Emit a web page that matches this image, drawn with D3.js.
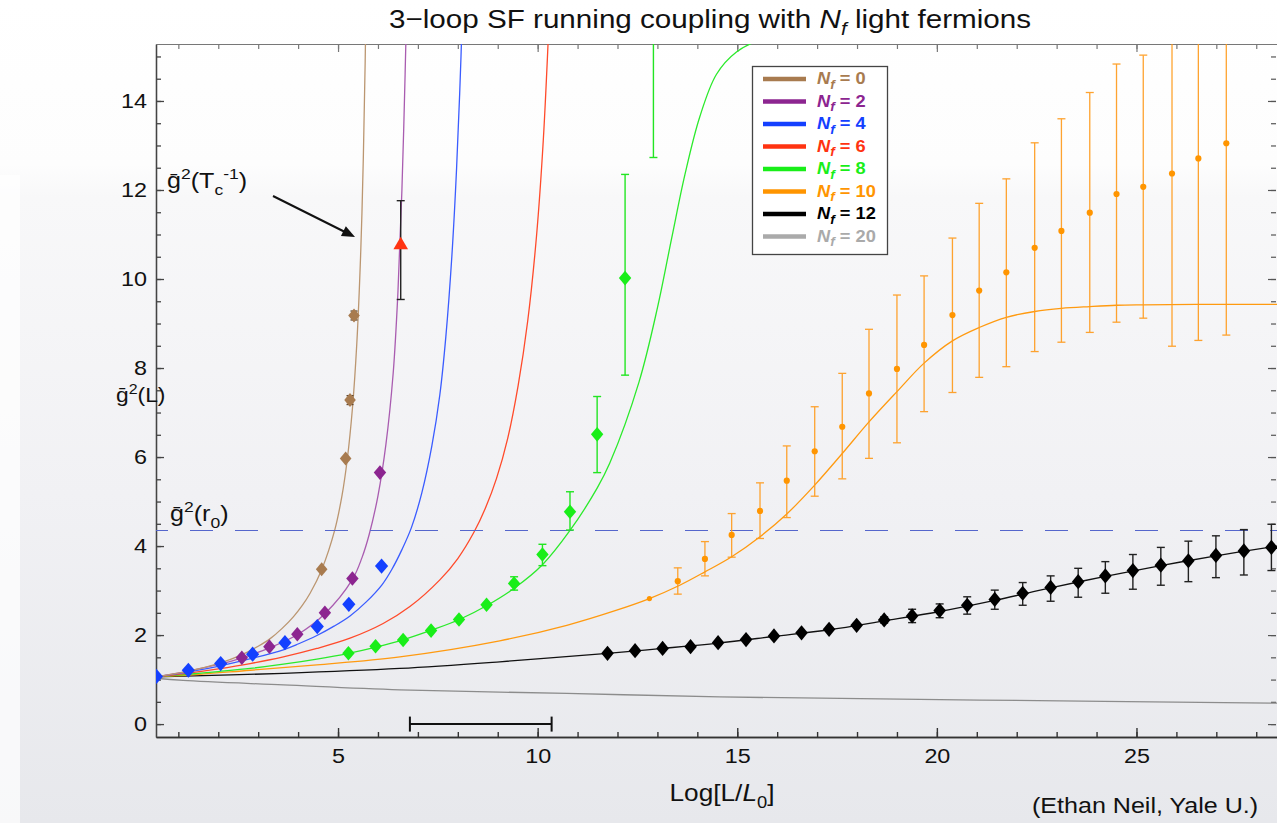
<!DOCTYPE html>
<html><head><meta charset="utf-8">
<script src="https://cdn.jsdelivr.net/npm/d3@7"></script>
<style>
html,body{margin:0;padding:0;background:#fff;}
svg{display:block;font-family:"Liberation Sans",Arial,Helvetica,sans-serif;}
</style></head><body>
<svg id="chart" width="1277" height="823"></svg>
<script>
// ---------------- data ----------------
const seriesLabels = ["0","2","4","6","8","10","12","20"];
const seriesColors = ["#a87b4f","#8c2590","#1440ff","#ff3311","#19ee19","#ff9500","#000000","#aaaaaa"];
const curveColors  = ["#bb9670","#a95cb0","#3a5cff","#ff4a2a","#2bea2b","#ff9a10","#111111","#8c8c8c"];

const curveNf0 = [[0.44,1.06],[1.25,1.19],[2.0,1.36],[2.57,1.55],[3.0,1.75],[3.30,1.92],[3.6,2.15],[3.88,2.41],[4.1,2.66],[4.30,2.94],[4.59,3.47],[4.92,4.37],[5.10,5.14],[5.23,5.94],[5.36,7.09],[5.47,8.55],[5.57,10.65],[5.63,12.6],[5.68,14.9],[5.73,18.3]];
const curveNf2 = [[0.44,1.06],[1.25,1.19],[2.0,1.34],[2.6,1.49],[3.3,1.72],[4.0,2.02],[4.67,2.48],[5.36,3.25],[5.6,3.74],[5.78,4.26],[6.0,5.13],[6.2,6.29],[6.38,7.87],[6.5,9.7],[6.6,12.0],[6.68,14.6],[6.74,17.0]];
const curveNf4 = [[0.44,1.06],[1.25,1.175],[2.06,1.31],[2.86,1.48],[3.63,1.67],[4.0,1.80],[4.47,1.99],[4.9,2.20],[5.30,2.43],[5.70,2.74],[6.10,3.13],[6.35,3.48],[6.60,3.92],[6.84,4.42],[7.10,5.2],[7.35,6.25],[7.55,7.4],[7.70,8.7],[7.85,10.5],[7.97,12.5],[8.08,15.0],[8.16,17.5]];
const curveNf6 = [[0.44,1.06],[1.25,1.145],[2.0,1.24],[2.80,1.36],[3.63,1.51],[4.47,1.70],[5.30,1.93],[6.13,2.26],[6.80,2.64],[7.55,3.24],[8.0,3.72],[8.41,4.32],[8.7,4.87],[8.97,5.52],[9.25,6.42],[9.51,7.6],[9.75,9.05],[9.97,10.95],[10.14,13.1],[10.29,15.9]];
const curveNf8 = [[0.44,1.06],[1.25,1.12],[2.0,1.18],[2.80,1.25],[3.63,1.345],[4.47,1.46],[5.26,1.59],[5.95,1.73],[6.65,1.90],[7.34,2.11],[8.04,2.35],[8.74,2.67],[9.41,3.05],[10.12,3.58],[10.81,4.35],[11.49,5.30],[11.81,5.87],[12.54,7.69],[13.0,9.35],[13.36,10.93],[13.69,12.35],[14.06,13.64],[14.48,14.6],[14.98,15.1],[15.6,15.38],[16.5,15.53]];
const curveNf10 = [[0.44,1.06],[1.25,1.10],[2.80,1.21],[4.47,1.33],[6.55,1.51],[9.05,1.87],[10.73,2.22],[11.98,2.56],[12.80,2.82],[13.56,3.12],[14.19,3.42],[14.86,3.76],[15.57,4.21],[16.24,4.72],[16.94,5.37],[17.63,6.08],[18.30,6.79],[19.0,7.47],[19.68,8.11],[20.39,8.61],[21.06,8.91],[21.74,9.14],[22.45,9.27],[23.12,9.34],[23.83,9.38],[24.5,9.41],[25.17,9.42],[26.5,9.43],[28.52,9.43]];
const curveNf12 = [[0.44,1.06],[3.63,1.14],[6.55,1.25],[9.05,1.40],[11.75,1.59],[13.13,1.70],[14.52,1.82],[15.92,1.97],[17.30,2.12],[18.68,2.32],[20.07,2.53],[21.45,2.78],[22.85,3.06],[24.22,3.32],[25.61,3.56],[26.99,3.78],[28.52,4.0]];
const curveNf20 = [[0.44,1.03],[1.12,0.98],[3.63,0.88],[6.55,0.77],[10.73,0.69],[14.56,0.61],[21.08,0.54],[28.52,0.47]];

// points: [x, y, errLow, errHigh]
const pointsNf0 = [[4.59,3.48],[5.19,5.97],[5.30,7.28,7.18,7.38],[5.40,9.18,9.08,9.28]];
const pointsNf2 = [[2.59,1.49],[3.28,1.74],[3.98,2.02],[4.67,2.50],[5.36,3.27],[6.05,5.65]];
const pointsNf4 = [[0.45,1.07],[1.25,1.21],[2.06,1.36],[2.86,1.57],[3.67,1.83],[4.48,2.19],[5.27,2.69],[6.09,3.55]];
const pointsNf6 = [[6.57,10.79,9.54,11.76]];
const pointsNf8 = [[5.26,1.59],[5.94,1.75],[6.63,1.89],[7.33,2.10],[8.03,2.35],[8.72,2.68],[9.41,3.16,3.01,3.31],[10.12,3.81,3.56,4.04],[10.81,4.77,4.36,5.22],[11.49,6.51,5.65,7.36],[12.19,10.02,7.84,12.35],[12.90,16.6,12.73,20.5]];
const pointsNf10 = [[12.80,2.82],[13.51,3.21,2.92,3.51],[14.19,3.71,3.33,4.10],[14.86,4.25,3.75,4.73],[15.57,4.79,4.17,5.42],[16.24,5.47,4.64,6.25],[16.94,6.13,5.12,7.13],[17.63,6.68,5.51,7.88],[18.30,7.43,5.97,8.87],[19.0,7.98,6.32,9.64],[19.68,8.52,7.02,10.07],[20.39,9.19,7.45,10.92],[21.06,9.74,7.79,11.70],[21.74,10.15,8.03,12.25],[22.45,10.70,8.37,13.06],[23.12,11.08,8.58,13.6],[23.83,11.49,8.80,14.19],[24.5,11.91,9.03,14.83],[25.17,12.07,9.12,15.03],[25.89,12.37,8.49,16.2],[26.55,12.71,8.62,16.8],[27.25,13.05,8.74,17.4]];
const pointsNf12 = [[11.75,1.59],[12.44,1.65],[13.13,1.70],[13.83,1.74],[14.52,1.83],[15.22,1.90],[15.92,1.98],[16.61,2.05],[17.30,2.13],[17.99,2.22],[18.68,2.34,2.27,2.41],[19.38,2.43,2.28,2.58],[20.07,2.55,2.39,2.70],[20.76,2.67,2.47,2.86],[21.45,2.80,2.58,3.01],[22.15,2.94,2.67,3.18],[22.85,3.07,2.76,3.33],[23.54,3.20,2.85,3.50],[24.22,3.33,2.94,3.65],[24.91,3.45,3.03,3.81],[25.61,3.57,3.12,3.97],[26.30,3.67,3.20,4.11],[26.99,3.79,3.29,4.23],[27.69,3.89,3.35,4.37],[28.38,3.97,3.45,4.49]];

const r0Level = 4.35;            // dashed line g^2(r0)
const scaleBar = [6.80, 10.35, 0]; // horizontal bar at y=0
const xMajorTicks = [5,10,15,20,25];
const yMajorTicks = [0,2,4,6,8,10,12,14];
const xDomain = [0.44, 28.52];
const yDomain = [-0.29, 15.28];

(function(){
const SX = 1.14; // horizontal stretch of the reference typography
const W = 1277, H = 823;
const pL = 156, pR = 1277, pT = 44, pB = 737;
const svg = d3.select("#chart");

const defs = svg.append("defs");
const grad = defs.append("linearGradient").attr("id","bg").attr("x1",0).attr("y1",0).attr("x2",0).attr("y2",1);
[[0,"#ffffff"],[0.2,"#fdfdfd"],[0.24,"#f8f8f9"],[0.6,"#f1f1f4"],[1,"#e7e8ec"]].forEach(s=>grad.append("stop").attr("offset",s[0]).attr("stop-color",s[1]));
svg.append("rect").attr("width",W).attr("height",H).attr("fill","url(#bg)");
svg.append("rect").attr("x",0).attr("y",175).attr("width",20).attr("height",H-175).attr("fill","#ffffff").attr("opacity",0.7);

defs.append("clipPath").attr("id","plotclip").append("rect")
  .attr("x",pL).attr("y",pT).attr("width",pR-pL).attr("height",pB-pT);

const x = d3.scaleLinear().domain(xDomain).range([pL,pR]);
const y = d3.scaleLinear().domain(yDomain).range([pB,pT]);

function rich(parent, px, py, size, parts, opts={}) {
  const t = parent.append("text")
    .attr("transform", `translate(${px},${py}) scale(${SX},1)`)
    .attr("font-size", size).attr("text-anchor", opts.anchor||"start")
    .attr("fill", opts.fill||"#111");
  let cur = 0;
  parts.forEach(p => {
    const s = p.shift||0;
    const ts = t.append("tspan").text(p.t).attr("dy", ((s-cur)*size).toFixed(2));
    cur = s;
    if (p.size) ts.attr("font-size", p.size*size);
    if (p.italic) ts.attr("font-style","italic");
    if (p.bold) ts.attr("font-weight","bold");
  });
  return t;
}

// ---------------- axes ----------------
const axG = svg.append("g");
const xMinor = d3.range(1,29);
const yMinor = d3.range(0,15.3,0.5);

function styleAxis(g, col, w) {
  g.selectAll("line").attr("stroke", col).attr("stroke-width", w);
  g.select(".domain").attr("stroke", col).attr("stroke-width", w);
}
let g = axG.append("g").attr("transform",`translate(0,${pB})`)
  .call(d3.axisBottom(x).tickValues(xMinor).tickSize(-5).tickSizeOuter(0).tickFormat(""));
styleAxis(g,"#333",1.4);
g = axG.append("g").attr("transform",`translate(0,${pB})`)
  .call(d3.axisBottom(x).tickValues(xMajorTicks).tickSize(-9).tickSizeOuter(0).tickPadding(11));
styleAxis(g,"#333",1.4);
g.selectAll("text").attr("font-size",20.5).attr("fill","#111").attr("font-family","Liberation Sans, Arial, sans-serif").attr("transform",`scale(${SX},1)`);

g = axG.append("g").attr("transform",`translate(${pL},0)`)
  .call(d3.axisLeft(y).tickValues(yMinor).tickSize(-5).tickSizeOuter(0).tickFormat(""));
styleAxis(g,"#444",1.3);
g = axG.append("g").attr("transform",`translate(${pL},0)`)
  .call(d3.axisLeft(y).tickValues(yMajorTicks).tickSize(-8).tickSizeOuter(0).tickPadding(8));
styleAxis(g,"#444",1.3);
g.selectAll("text").attr("font-size",20.5).attr("fill","#111").attr("font-family","Liberation Sans, Arial, sans-serif").attr("transform",`scale(${SX},1)`);

g = axG.append("g").attr("transform",`translate(0,${pT})`)
  .call(d3.axisTop(x).tickValues(xMinor).tickSize(-5).tickSizeOuter(0).tickFormat(""));
styleAxis(g,"#777",1.2);
g = axG.append("g").attr("transform",`translate(0,${pT})`)
  .call(d3.axisTop(x).tickValues(xMajorTicks).tickSize(-8).tickSizeOuter(0).tickFormat(""));
styleAxis(g,"#777",1.2);

g = axG.append("g").attr("transform",`translate(${pR-1},0)`)
  .call(d3.axisRight(y).tickValues(yMinor).tickSize(-5).tickSizeOuter(0).tickFormat(""));
styleAxis(g,"#555",1.2); g.select(".domain").remove();
g = axG.append("g").attr("transform",`translate(${pR-1},0)`)
  .call(d3.axisRight(y).tickValues(yMajorTicks).tickSize(-8).tickSizeOuter(0).tickFormat(""));
styleAxis(g,"#555",1.2); g.select(".domain").remove();

// ---------------- plot content ----------------
const plot = svg.append("g").attr("clip-path","url(#plotclip)");
const line = d3.line().x(d=>x(d[0])).y(d=>y(d[1])).curve(d3.curveCatmullRom.alpha(0.5));
const curves = [curveNf0,curveNf2,curveNf4,curveNf6,curveNf8,curveNf10,curveNf12,curveNf20];
[7,6,5,4,3,2,1,0].forEach(i => {
  plot.append("path").datum(curves[i]).attr("d",line).attr("fill","none")
    .attr("stroke",curveColors[i]).attr("stroke-width",1.3);
});

plot.append("line").attr("x1",x(xDomain[0])).attr("x2",x(xDomain[1]))
  .attr("y1",y(r0Level)).attr("y2",y(r0Level))
  .attr("stroke","#5566cc").attr("stroke-width",1.2).attr("stroke-dasharray","23 22").attr("stroke-dashoffset",11);

const sb = plot.append("g").attr("stroke","#111").attr("stroke-width",2);
sb.append("line").attr("x1",x(scaleBar[0])).attr("x2",x(scaleBar[1])).attr("y1",y(scaleBar[2])).attr("y2",y(scaleBar[2]));
[scaleBar[0],scaleBar[1]].forEach(v=>sb.append("line").attr("x1",x(v)).attr("x2",x(v)).attr("y1",y(scaleBar[2])-7.5).attr("y2",y(scaleBar[2])+7.5));

function errorBars(data, col, w, cap, op) {
  data.filter(d=>d.length>2).forEach(d=>{
    const gg = plot.append("g").attr("stroke",col).attr("stroke-width",w).attr("opacity",op||1);
    gg.append("line").attr("x1",x(d[0])).attr("x2",x(d[0])).attr("y1",y(d[2])).attr("y2",y(d[3]));
    gg.append("line").attr("x1",x(d[0])-cap).attr("x2",x(d[0])+cap).attr("y1",y(d[2])).attr("y2",y(d[2]));
    gg.append("line").attr("x1",x(d[0])-cap).attr("x2",x(d[0])+cap).attr("y1",y(d[3])).attr("y2",y(d[3]));
  });
}
function diamonds(data, col, hw, hh) {
  plot.selectAll(null).data(data).enter().append("path")
    .attr("d",`M0,${-hh}L${hw},0L0,${hh}L${-hw},0Z`)
    .attr("transform",d=>`translate(${x(d[0])},${y(d[1])})`).attr("fill",col);
}

errorBars(pointsNf0,"#5a4530",1.3,3.5);
diamonds(pointsNf0, seriesColors[0], 5.8, 7);
diamonds(pointsNf2, seriesColors[1], 6.2, 7.3);
diamonds(pointsNf4, seriesColors[2], 6.6, 7.6);
errorBars(pointsNf8, "#22e522", 1.4, 4);
diamonds(pointsNf8, seriesColors[4], 6.2, 7.3);
errorBars(pointsNf10, "#ff9a1a", 1.3, 4, 0.9);
plot.selectAll(null).data(pointsNf10).enter().append("circle")
  .attr("cx",d=>x(d[0])).attr("cy",d=>y(d[1])).attr("r",(d,i)=>i===0?2.6:3.1).attr("fill",seriesColors[5]);
errorBars(pointsNf12, "#222", 1.4, 4);
diamonds(pointsNf12, seriesColors[6], 6.3, 7.6);
errorBars(pointsNf6, "#222", 1.4, 4);
plot.selectAll(null).data(pointsNf6).enter().append("path")
  .attr("d","M0,-7L7.3,5.5L-7.3,5.5Z")
  .attr("transform",d=>`translate(${x(d[0])},${y(d[1])})`).attr("fill",seriesColors[3]);

// ---------------- legend ----------------
const lg = svg.append("g");
lg.append("rect").attr("x",752.5).attr("y",66.5).attr("width",135).attr("height",188)
  .attr("fill","#ffffff").attr("stroke","#444").attr("stroke-width",1.3);
seriesLabels.forEach((lab,i)=>{
  const yy = 79 + i*22.5;
  lg.append("line").attr("x1",763).attr("x2",806).attr("y1",yy).attr("y2",yy)
    .attr("stroke",seriesColors[i]).attr("stroke-width",4.5);
  rich(lg, 817, yy+5, 16, [{t:"N",italic:true,bold:true},{t:"f",italic:true,bold:true,size:0.75,shift:0.3},{t:" = "+lab,bold:true,shift:0}], {fill:seriesColors[i]});
});

// ---------------- texts ----------------
rich(svg, 710, 28, 26, [{t:"3\u2212loop SF running coupling with "},{t:"N",italic:true},{t:"f",italic:true,size:0.7,shift:0.25},{t:" light fermions",shift:0}], {anchor:"middle"});
rich(svg, 722, 801, 23, [{t:"Log[L/"},{t:"L",italic:true},{t:"0",size:0.7,shift:0.3},{t:"]",shift:0}], {anchor:"middle"});
rich(svg, 1032, 813, 22, [{t:"(Ethan Neil, Yale U.)"}]);
rich(svg, 116, 402, 20, [{t:"\u1E21"},{t:"2",size:0.7,shift:-0.42},{t:"(L)",shift:0}]);
rich(svg, 167, 188, 22, [{t:"\u1E21"},{t:"2",size:0.7,shift:-0.42},{t:"(T",shift:0},{t:"c",size:0.7,shift:0.3},{t:"-1",size:0.7,shift:-0.42},{t:")",shift:0}]);
rich(svg, 170, 521, 22, [{t:"\u1E21"},{t:"2",size:0.7,shift:-0.42},{t:"(r",shift:0},{t:"0",size:0.7,shift:0.3},{t:")",shift:0}]);

svg.append("line").attr("x1",273).attr("y1",196).attr("x2",348).attr("y2",233.5)
  .attr("stroke","#111").attr("stroke-width",2);
svg.append("path").attr("d","M0,0L-13,-5.5L-13,5.5Z").attr("fill","#111")
  .attr("transform",`translate(355,237) rotate(${Math.atan2(237-196,355-273)*180/Math.PI})`);
})();
</script>
</body></html>
